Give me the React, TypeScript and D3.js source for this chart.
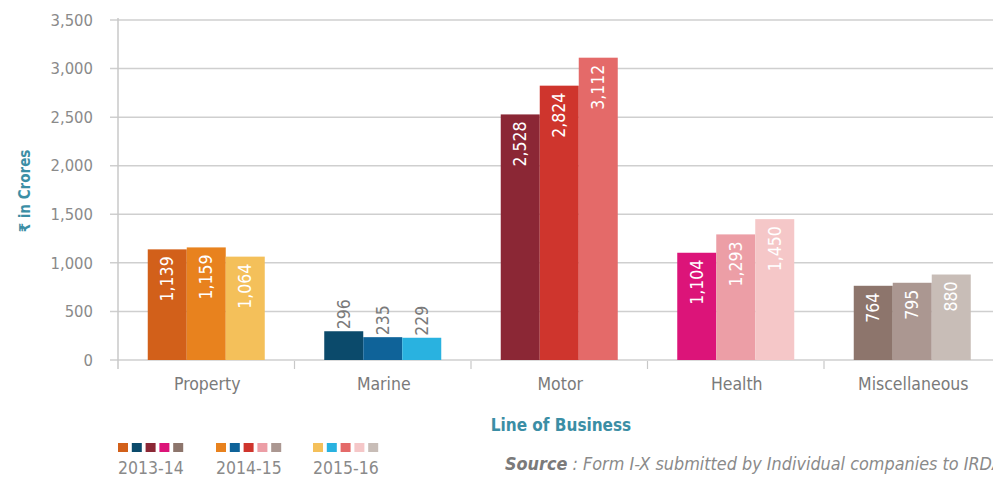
import React from "react";
import * as d3 from "d3";

const categories = ["Property", "Marine", "Motor", "Health", "Miscellaneous"];
const years = ["2013-14", "2014-15", "2015-16"];
const values2013 = [1139, 296, 2528, 1104, 764];
const values2014 = [1159, 235, 2824, 1293, 795];
const values2015 = [1064, 229, 3112, 1450, 880];
const yTicks = [0, 500, 1000, 1500, 2000, 2500, 3000, 3500];
const colors2013 = ["#d2601a", "#0b4a6b", "#8b2735", "#dc1479", "#8d756c"];
const colors2014 = ["#e8821e", "#0f6399", "#cf352d", "#ec9ea6", "#ab9791"];
const colors2015 = ["#f4c05a", "#29b2e0", "#e46a69", "#f5c7c8", "#c8bdb7"];
const darkLabelCategories = ["Marine"];

const W = 993;
const H = 479;
const FONT = "'Liberation Sans Narrow', 'DejaVu Sans Condensed', 'Roboto', sans-serif";
const TEAL = "#3b8ea5";

export default function App() {
  const seriesValues = [values2013, values2014, values2015];
  const seriesColors = [colors2013, colors2014, colors2015];
  const x0 = 118;
  const bandW = 176.5;
  const x = d3
    .scaleBand<string>()
    .domain(categories)
    .range([x0, x0 + bandW * categories.length])
    .paddingInner(0)
    .paddingOuter(0);
  const x1 = d3
    .scaleBand<string>()
    .domain(years)
    .range([0, bandW])
    .paddingOuter((bandW - 117) / 2 / 39)
    .paddingInner(0);
  const y = d3.scaleLinear().domain([0, 3500]).range([360, 20]);
  const fmt = d3.format(",");

  return (
    <svg
      width={W}
      height={H}
      style={{ position: "fixed", left: 0, top: 0, background: "#fff" }}
      fontFamily={FONT}
    >
      <rect x={0} y={0} width={W} height={H} fill="#fff" />
      {yTicks.map((t) => (
        <g key={t}>
          <line x1={110} x2={W} y1={y(t)} y2={y(t)} stroke="#cfcfcf" strokeWidth={1.5} />
          <text x={93} y={y(t)} dy="0.35em" textAnchor="end" fontSize={16.5} fill="#8a8a8a">
            {fmt(t)}
          </text>
        </g>
      ))}
      <line x1={x0} x2={x0} y1={18} y2={369} stroke="#c8c8c8" strokeWidth={1.5} />
      {categories.map((c) => (
        <line
          key={c}
          x1={(x(c) as number) + bandW}
          x2={(x(c) as number) + bandW}
          y1={361}
          y2={369}
          stroke="#c8c8c8"
          strokeWidth={1.2}
        />
      ))}
      {categories.map((c, ci) =>
        years.map((yr, si) => {
          const v = seriesValues[si][ci];
          const bx = (x(c) as number) + (x1(yr) as number);
          const bw = x1.bandwidth();
          const top = y(v);
          const cx = bx + bw / 2;
          const dark = darkLabelCategories.includes(c);
          return (
            <g key={c + yr}>
              <rect x={bx} y={top} width={bw} height={y(0) - top} fill={seriesColors[si][ci]} />
              {dark ? (
                <text
                  transform={`translate(${cx},${top - 2}) rotate(-90)`}
                  dy="0.35em"
                  textAnchor="start"
                  fontSize={17.5}
                  fill="#7a7a7a"
                >
                  {fmt(v)}
                </text>
              ) : (
                <text
                  transform={`translate(${cx},${top + 7}) rotate(-90)`}
                  dy="0.35em"
                  textAnchor="end"
                  fontSize={17.5}
                  fill="#ffffff"
                >
                  {fmt(v)}
                </text>
              )}
            </g>
          );
        })
      )}
      {categories.map((c) => (
        <text
          key={c}
          x={(x(c) as number) + bandW / 2 + 1}
          y={390}
          textAnchor="middle"
          fontSize={17.5}
          fill="#7a7a7a"
        >
          {c}
        </text>
      ))}
      <text
        transform="translate(25,191) rotate(-90)"
        dy="0.35em"
        textAnchor="middle"
        fontSize={15}
        fontWeight="bold"
        fill={TEAL}
      >
        ₹ in Crores
      </text>
      <text x={561} y={431} textAnchor="middle" fontSize={17} fontWeight="bold" fill={TEAL}>
        Line of Business
      </text>
      {years.map((yr, si) => {
        const lx = [118, 216, 313][si];
        return (
          <g key={yr}>
            {seriesColors[si].map((col, k) => (
              <rect key={k} x={lx + k * 13.8} y={443} width={10} height={9} fill={col} />
            ))}
            <text x={lx} y={474} fontSize={17.5} fill="#8a8a8a">
              {yr}
            </text>
          </g>
        );
      })}
      <text
        x={505}
        y={470}
        fontSize={17}
        fontStyle="italic"
        fill="#8a8a8a"
        textLength={498}
        lengthAdjust="spacingAndGlyphs"
      >
        <tspan fontWeight="bold" fill="#7a7a7a">Source</tspan>
        <tspan> : Form I-X submitted by Individual companies to IRDA</tspan>
      </text>
    </svg>
  );
}
